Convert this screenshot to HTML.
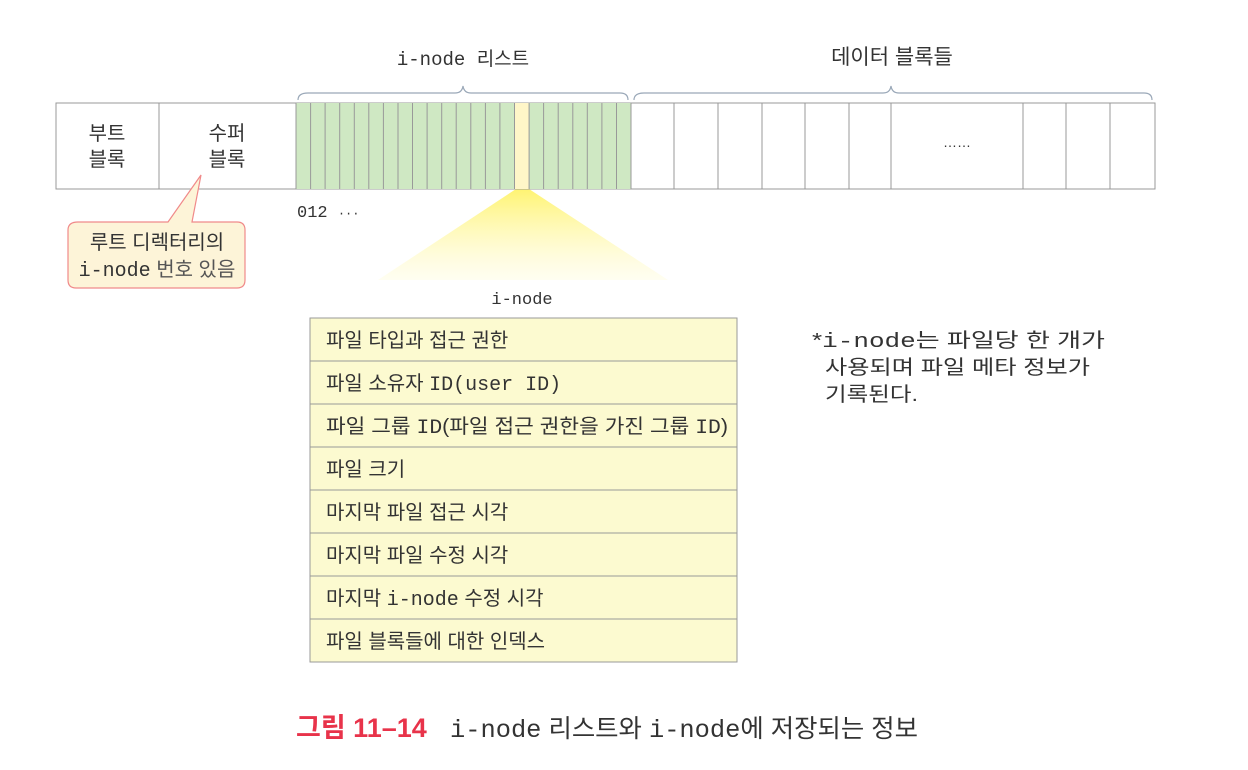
<!DOCTYPE html>
<html><head><meta charset="utf-8"><style>
html,body{margin:0;padding:0;background:#fff;}
svg{display:block;}
text{font-family:"Liberation Sans","Noto Sans CJK KR",sans-serif;fill:#333;}
.m{font-family:"Liberation Mono","Noto Sans CJK KR",monospace;}
</style></head><body>
<svg width="1248" height="770" viewBox="0 0 1248 770" xmlns="http://www.w3.org/2000/svg">
<defs>
<linearGradient id="fan" x1="0" y1="0" x2="0" y2="1">
<stop offset="0" stop-color="#fff36a" stop-opacity="0.95"/>
<stop offset="1" stop-color="#fffbd0" stop-opacity="0.3"/>
</linearGradient>
</defs>
<polygon points="516,189 529,189 668,280 378,280" fill="url(#fan)"/>
<path d="M298,100 Q298,93 308,93 L455,93 Q462,93 463,86 Q464,93 471,93 L620,93 Q628,93 628,100" fill="none" stroke="#9aa8b8" stroke-width="1.2"/>
<path d="M634,100 Q634,93 644,93 L883,93 Q890,93 891,86 Q892,93 899,93 L1144,93 Q1152,93 1152,100" fill="none" stroke="#9aa8b8" stroke-width="1.2"/>
<text x="463" y="65" text-anchor="middle" font-size="19" class="m">i-node <tspan style="font-family:'Noto Sans CJK KR',sans-serif">리스트</tspan></text>
<text x="892" y="64" text-anchor="middle" font-size="21">데이터 블록들</text>
<rect x="56" y="103" width="1099" height="86" fill="#fff" stroke="#999" stroke-width="1"/>
<rect x="296" y="103" width="335" height="86" fill="#cfe8c3"/>
<rect x="514.5" y="103" width="14.6" height="86" fill="#fff6c8"/>
<g stroke="#999" stroke-width="1">
<line x1="159" y1="103" x2="159" y2="189"/>
<line x1="296" y1="103" x2="296" y2="189"/>
<line x1="310.6" y1="103" x2="310.6" y2="189"/><line x1="325.1" y1="103" x2="325.1" y2="189"/><line x1="339.7" y1="103" x2="339.7" y2="189"/><line x1="354.3" y1="103" x2="354.3" y2="189"/><line x1="368.8" y1="103" x2="368.8" y2="189"/><line x1="383.4" y1="103" x2="383.4" y2="189"/><line x1="398" y1="103" x2="398" y2="189"/><line x1="412.5" y1="103" x2="412.5" y2="189"/><line x1="427.1" y1="103" x2="427.1" y2="189"/><line x1="441.7" y1="103" x2="441.7" y2="189"/><line x1="456.2" y1="103" x2="456.2" y2="189"/><line x1="470.8" y1="103" x2="470.8" y2="189"/><line x1="485.4" y1="103" x2="485.4" y2="189"/><line x1="499.9" y1="103" x2="499.9" y2="189"/><line x1="514.5" y1="103" x2="514.5" y2="189"/><line x1="529.1" y1="103" x2="529.1" y2="189"/><line x1="543.6" y1="103" x2="543.6" y2="189"/><line x1="558.2" y1="103" x2="558.2" y2="189"/><line x1="572.8" y1="103" x2="572.8" y2="189"/><line x1="587.3" y1="103" x2="587.3" y2="189"/><line x1="601.9" y1="103" x2="601.9" y2="189"/><line x1="616.5" y1="103" x2="616.5" y2="189"/>
<line x1="631" y1="103" x2="631" y2="189"/>
<line x1="674" y1="103" x2="674" y2="189"/><line x1="718" y1="103" x2="718" y2="189"/><line x1="762" y1="103" x2="762" y2="189"/><line x1="805" y1="103" x2="805" y2="189"/><line x1="849" y1="103" x2="849" y2="189"/><line x1="891" y1="103" x2="891" y2="189"/><line x1="1023" y1="103" x2="1023" y2="189"/><line x1="1066" y1="103" x2="1066" y2="189"/><line x1="1110" y1="103" x2="1110" y2="189"/>
</g>
<text x="107" y="140" text-anchor="middle" font-size="20">부트</text>
<text x="107" y="166" text-anchor="middle" font-size="20">블록</text>
<text x="227" y="140" text-anchor="middle" font-size="20">수퍼</text>
<text x="227" y="166" text-anchor="middle" font-size="20">블록</text>
<text x="957" y="147" text-anchor="middle" font-size="14" fill="#666">……</text>
<text x="297" y="217" font-size="17" class="m">012 <tspan font-size="12">···</tspan></text>
<path d="M78,222 L168,222 L201,175 L192,222 L237,222 Q245,222 245,230 L245,280 Q245,288 237,288 L76,288 Q68,288 68,280 L68,230 Q68,222 78,222 Z" fill="#fdf4d8" stroke="#f08a8a" stroke-width="1.2"/>
<text x="157" y="249" text-anchor="middle" font-size="20" fill="#555">루트 디렉터리의</text>
<text x="157" y="276" text-anchor="middle" font-size="20"><tspan class="m" fill="#333">i-node</tspan><tspan fill="#555"> 번호 있음</tspan></text>
<text x="522" y="304" text-anchor="middle" font-size="17" class="m">i-node</text>
<rect x="310" y="318" width="427" height="344" fill="#fcfad0" stroke="#999"/>
<g stroke="#999"><line x1="310" y1="361" x2="737" y2="361"/><line x1="310" y1="404" x2="737" y2="404"/><line x1="310" y1="447" x2="737" y2="447"/><line x1="310" y1="490" x2="737" y2="490"/><line x1="310" y1="533" x2="737" y2="533"/><line x1="310" y1="576" x2="737" y2="576"/><line x1="310" y1="619" x2="737" y2="619"/></g>
<g font-size="20">
<text x="326" y="347">파일 타입과 접근 권한</text>
<text x="326" y="390">파일 소유자 <tspan class="m">ID(user ID)</tspan></text>
<text x="326" y="433" textLength="402" lengthAdjust="spacingAndGlyphs">파일 그룹 <tspan class="m">ID</tspan>(파일 접근 권한을 가진 그룹 <tspan class="m">ID</tspan>)</text>
<text x="326" y="476">파일 크기</text>
<text x="326" y="519">마지막 파일 접근 시각</text>
<text x="326" y="562">마지막 파일 수정 시각</text>
<text x="326" y="605">마지막 <tspan class="m">i-node</tspan> 수정 시각</text>
<text x="326" y="648">파일 블록들에 대한 인덱스</text>
</g>
<g font-size="20">
<text x="812" y="347" textLength="293" lengthAdjust="spacingAndGlyphs">*<tspan class="m">i-node</tspan>는 파일당 한 개가</text>
<text x="825" y="374" textLength="265" lengthAdjust="spacingAndGlyphs">사용되며 파일 메타 정보가</text>
<text x="825" y="401" textLength="93" lengthAdjust="spacingAndGlyphs">기록된다.</text>
</g>
<text x="296" y="737" font-size="27" font-weight="bold" style="fill:#e8334a">그림 11–14</text>
<text x="450" y="737" font-size="25" textLength="468" lengthAdjust="spacingAndGlyphs"><tspan class="m">i-node</tspan> 리스트와 <tspan class="m">i-node</tspan>에 저장되는 정보</text>
</svg>
</body></html>
